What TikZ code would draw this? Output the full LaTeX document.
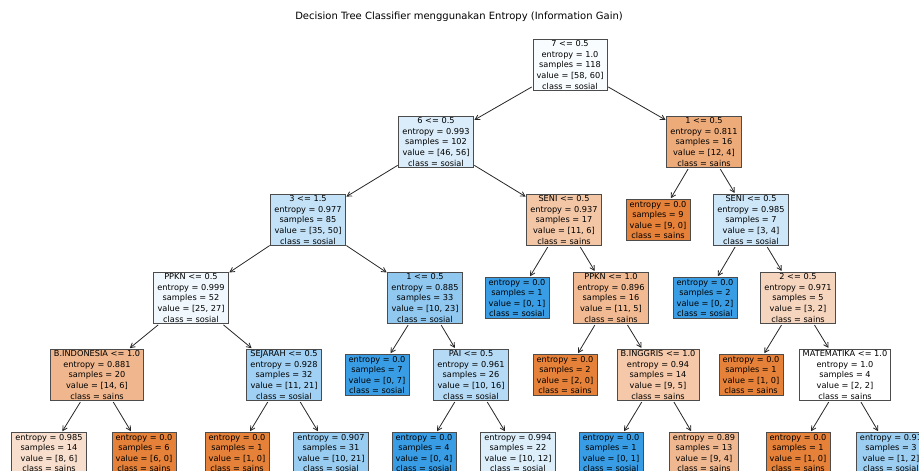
\documentclass[tikz,border=0pt]{standalone}
\usepackage{fontspec}
\setmainfont{DejaVu Sans}
\usetikzlibrary{arrows.meta}
\definecolor{sains}{RGB}{229,129,57}
\definecolor{sosial}{RGB}{57,157,229}
\begin{document}
\begin{tikzpicture}[x=1pt,y=-1pt,
  box/.style={draw=black!70, line width=0.8pt, align=center, inner xsep=3.5pt, inner ysep=1.5pt,
    font=\fontsize{8.2}{10.6}\selectfont},
  edge/.style={draw=black!85, line width=0.8pt, -{Straight Barb[length=4.5pt,width=5pt]}, shorten >=1pt, shorten <=1pt}]
\clip (0,0) rectangle (919,471);
\node[font=\fontsize{10}{12}\selectfont] (title) at (459,17) {Decision Tree Classifier menggunakan Entropy (Information Gain)};
\node[box, fill=sosial!3] (root) at (570,65) {7 <= 0.5\\entropy = 1.0\\samples = 118\\value = [58, 60]\\class = sosial};
\node[box, fill=sosial!18] (l) at (436,142) {6 <= 0.5\\entropy = 0.993\\samples = 102\\value = [46, 56]\\class = sosial};
\node[box, fill=sains!67] (r) at (704,142) {1 <= 0.5\\entropy = 0.811\\samples = 16\\value = [12, 4]\\class = sains};
\node[box, fill=sosial!30] (ll) at (308,220) {3 <= 1.5\\entropy = 0.977\\samples = 85\\value = [35, 50]\\class = sosial};
\node[box, fill=sains!45] (lr) at (564,220) {SENI <= 0.5\\entropy = 0.937\\samples = 17\\value = [11, 6]\\class = sains};
\node[box, fill=sains] (rl) at (658,220) {entropy = 0.0\\samples = 9\\value = [9, 0]\\class = sains};
\node[box, fill=sosial!25] (rr) at (751,220) {SENI <= 0.5\\entropy = 0.985\\samples = 7\\value = [3, 4]\\class = sosial};
\node[box, fill=sosial!7] (lll) at (191,298) {PPKN <= 0.5\\entropy = 0.999\\samples = 52\\value = [25, 27]\\class = sosial};
\node[box, fill=sosial!56] (llr) at (425,298) {1 <= 0.5\\entropy = 0.885\\samples = 33\\value = [10, 23]\\class = sosial};
\node[box, fill=sosial] (lrl) at (517,298) {entropy = 0.0\\samples = 1\\value = [0, 1]\\class = sosial};
\node[box, fill=sains!55] (lrr) at (611,298) {PPKN <= 1.0\\entropy = 0.896\\samples = 16\\value = [11, 5]\\class = sains};
\node[box, fill=sosial] (rrl) at (705,298) {entropy = 0.0\\samples = 2\\value = [0, 2]\\class = sosial};
\node[box, fill=sains!33] (rrr) at (798,298) {2 <= 0.5\\entropy = 0.971\\samples = 5\\value = [3, 2]\\class = sains};
\node[box, fill=sains!57] (llll) at (97,375) {B.INDONESIA <= 1.0\\entropy = 0.881\\samples = 20\\value = [14, 6]\\class = sains};
\node[box, fill=sosial!48] (lllr) at (284,375) {SEJARAH <= 0.5\\entropy = 0.928\\samples = 32\\value = [11, 21]\\class = sosial};
\node[box, fill=sosial] (llrl) at (377,375) {entropy = 0.0\\samples = 7\\value = [0, 7]\\class = sosial};
\node[box, fill=sosial!38] (llrr) at (471,375) {PAI <= 0.5\\entropy = 0.961\\samples = 26\\value = [10, 16]\\class = sosial};
\node[box, fill=sains] (lrrl) at (565,375) {entropy = 0.0\\samples = 2\\value = [2, 0]\\class = sains};
\node[box, fill=sains!44] (lrrr) at (658,375) {B.INGGRIS <= 1.0\\entropy = 0.94\\samples = 14\\value = [9, 5]\\class = sains};
\node[box, fill=sains] (rrrl) at (751,375) {entropy = 0.0\\samples = 1\\value = [1, 0]\\class = sains};
\node[box, fill=white] (rrrr) at (845,375) {MATEMATIKA <= 1.0\\entropy = 1.0\\samples = 4\\value = [2, 2]\\class = sains};
\node[box, fill=sains!25] (lllll) at (49,453) {entropy = 0.985\\samples = 14\\value = [8, 6]\\class = sains};
\node[box, fill=sains] (llllr) at (144,453) {entropy = 0.0\\samples = 6\\value = [6, 0]\\class = sains};
\node[box, fill=sains] (lllrl) at (237,453) {entropy = 0.0\\samples = 1\\value = [1, 0]\\class = sains};
\node[box, fill=sosial!52] (lllrr) at (331,453) {entropy = 0.907\\samples = 31\\value = [10, 21]\\class = sosial};
\node[box, fill=sosial] (llrrl) at (424,453) {entropy = 0.0\\samples = 4\\value = [0, 4]\\class = sosial};
\node[box, fill=sosial!17] (llrrr) at (518,453) {entropy = 0.994\\samples = 22\\value = [10, 12]\\class = sosial};
\node[box, fill=sosial] (lrrrl) at (611,453) {entropy = 0.0\\samples = 1\\value = [0, 1]\\class = sosial};
\node[box, fill=sains!56] (lrrrr) at (704,453) {entropy = 0.89\\samples = 13\\value = [9, 4]\\class = sains};
\node[box, fill=sains] (rrrrl) at (798,453) {entropy = 0.0\\samples = 1\\value = [1, 0]\\class = sains};
\node[box, fill=sosial!50] (rrrrr) at (891,453) {entropy = 0.91\\samples = 3\\value = [1, 2]\\class = sosial};
\draw[edge] (root) -- (l);
\draw[edge] (root) -- (r);
\draw[edge] (l) -- (ll);
\draw[edge] (l) -- (lr);
\draw[edge] (r) -- (rl);
\draw[edge] (r) -- (rr);
\draw[edge] (ll) -- (lll);
\draw[edge] (ll) -- (llr);
\draw[edge] (lr) -- (lrl);
\draw[edge] (lr) -- (lrr);
\draw[edge] (rr) -- (rrl);
\draw[edge] (rr) -- (rrr);
\draw[edge] (lll) -- (llll);
\draw[edge] (lll) -- (lllr);
\draw[edge] (llr) -- (llrl);
\draw[edge] (llr) -- (llrr);
\draw[edge] (lrr) -- (lrrl);
\draw[edge] (lrr) -- (lrrr);
\draw[edge] (rrr) -- (rrrl);
\draw[edge] (rrr) -- (rrrr);
\draw[edge] (llll) -- (lllll);
\draw[edge] (llll) -- (llllr);
\draw[edge] (lllr) -- (lllrl);
\draw[edge] (lllr) -- (lllrr);
\draw[edge] (llrr) -- (llrrl);
\draw[edge] (llrr) -- (llrrr);
\draw[edge] (lrrr) -- (lrrrl);
\draw[edge] (lrrr) -- (lrrrr);
\draw[edge] (rrrr) -- (rrrrl);
\draw[edge] (rrrr) -- (rrrrr);
\end{tikzpicture}
\end{document}
